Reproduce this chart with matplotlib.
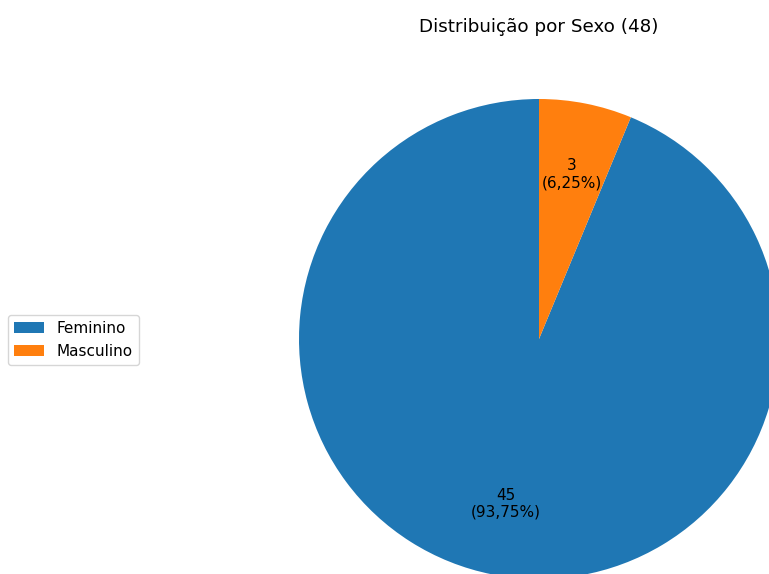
import matplotlib
matplotlib.use("Agg")
import matplotlib.pyplot as plt

categories = ["Feminino", "Masculino"]
values = [45, 3]
colors = ["#1f77b4", "#ff7f0e"]
title = "Distribuição por Sexo (48)"

W, H = 769, 574
fig = plt.figure(figsize=(W / 100, H / 100), dpi=100)

cx, cy, r = 539, 339, 240
ax = fig.add_axes([(cx - r) / W, (H - cy - r) / H, 2 * r / W, 2 * r / H])

total = sum(values)

def fmt(p):
    n = int(round(p * total / 100))
    return f"{n}\n({p:.2f}%)".replace(".", ",")

wedges, texts, autotexts = ax.pie(values, colors=colors, startangle=90,
                                  autopct=fmt, pctdistance=0.7,
                                  textprops={"fontsize": 11})
ax.set_xlim(-1, 1)
ax.set_ylim(-1, 1)
ax.set_aspect("equal")

fig.text(cx / W, 1 - 27 / H, title, ha="center", va="center", fontsize=13.2)

fig.legend(wedges, categories, loc="center left",
           bbox_to_anchor=(0 / W, 1 - 340 / H), fontsize=11)

fig.savefig("out.png", dpi=100)
